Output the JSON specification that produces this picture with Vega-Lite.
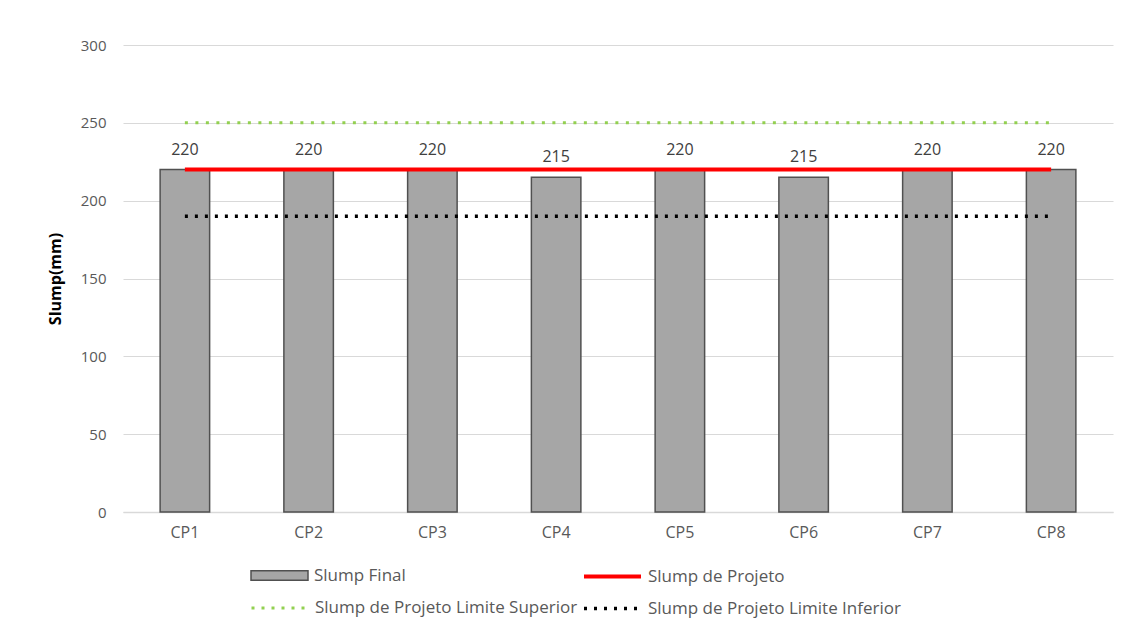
{
  "$schema": "https://vega.github.io/schema/vega-lite/v6.json",
  "autosize": "none",
  "width": 990,
  "height": 467,
  "padding": {"left": 123, "top": 45, "right": 32, "bottom": 131},
  "background": "white",
  "config": {
    "font": "Open Sans",
    "view": {"stroke": null},
    "axis": {"labelColor": "#595959", "ticks": false, "gridColor": "#d9d9d9", "gridWidth": 1},
    "axisX": {"labelFontSize": 16, "labelPadding": 12, "domainColor": "#d9d9d9", "domainWidth": 1.5, "labelAngle": 0},
    "axisY": {"labelFontSize": 15, "labelPadding": 17, "domain": false, "titleFontSize": 16, "titleFontWeight": "bold", "titleColor": "#000000", "titlePadding": 17},
    "legend": {"title": null, "orient": "none", "labelFontSize": 17, "labelColor": "#595959", "labelOffset": 5, "labelLimit": 500, "symbolSize": 3249, "symbolOpacity": 1}
  },
  "resolve": {"scale": {"color": "shared"}, "legend": {"color": "independent"}},
  "data": {
    "values": [
      {"cat": "CP1", "final": 220, "projeto": 220, "sup": 250, "inf": 190},
      {"cat": "CP2", "final": 220, "projeto": 220, "sup": 250, "inf": 190},
      {"cat": "CP3", "final": 220, "projeto": 220, "sup": 250, "inf": 190},
      {"cat": "CP4", "final": 215, "projeto": 220, "sup": 250, "inf": 190},
      {"cat": "CP5", "final": 220, "projeto": 220, "sup": 250, "inf": 190},
      {"cat": "CP6", "final": 215, "projeto": 220, "sup": 250, "inf": 190},
      {"cat": "CP7", "final": 220, "projeto": 220, "sup": 250, "inf": 190},
      {"cat": "CP8", "final": 220, "projeto": 220, "sup": 250, "inf": 190}
    ]
  },
  "encoding": {
    "x": {
      "field": "cat",
      "type": "nominal",
      "sort": null,
      "scale": {"paddingInner": 0, "paddingOuter": 0},
      "axis": {"title": null}
    }
  },
  "layer": [
    {
      "mark": {"type": "bar", "width": {"band": 0.4}, "fill": "#a6a6a6", "stroke": "#505050", "strokeWidth": 1.5},
      "encoding": {
        "y": {
          "field": "final",
          "type": "quantitative",
          "scale": {"domain": [0, 300], "nice": false},
          "axis": {"title": "Slump(mm)", "values": [0, 50, 100, 150, 200, 250, 300], "labelFontSize": 15, "titleFontSize": 16}
        },
        "color": {
          "datum": "Slump Final",
          "type": "nominal",
          "scale": {
            "domain": ["Slump Final", "Slump de Projeto", "Slump de Projeto Limite Superior", "Slump de Projeto Limite Inferior"],
            "range": ["#a6a6a6", "#ff0000", "#92d050", "#000000"]
          },
          "legend": {
            "values": ["Slump Final"],
            "legendX": 127,
            "legendY": 501,
            "symbolType": "M-1,-0.17H1V0.17H-1Z",
            "symbolFillColor": "#a6a6a6",
            "symbolStrokeColor": "#505050",
            "symbolStrokeWidth": 1.5
          }
        }
      }
    },
    {
      "mark": {"type": "text", "baseline": "middle", "dy": -20, "fontSize": 16, "color": "#404040"},
      "encoding": {
        "y": {"field": "final", "type": "quantitative"},
        "text": {"field": "final", "type": "quantitative"}
      }
    },
    {
      "mark": {"type": "line", "strokeWidth": 3, "strokeDash": [3, 7.5], "strokeCap": "butt"},
      "encoding": {
        "y": {"field": "sup", "type": "quantitative"},
        "color": {
          "datum": "Slump de Projeto Limite Superior",
          "type": "nominal",
          "legend": {
            "values": ["Slump de Projeto Limite Superior"],
            "legendX": 127,
            "legendY": 533,
            "symbolType": "stroke",
            "symbolStrokeWidth": 3,
            "symbolDash": [3, 7]
          }
        }
      }
    },
    {
      "mark": {"type": "line", "strokeWidth": 3.5, "strokeDash": [3, 7], "strokeCap": "butt"},
      "encoding": {
        "y": {"field": "inf", "type": "quantitative"},
        "color": {
          "datum": "Slump de Projeto Limite Inferior",
          "type": "nominal",
          "legend": {
            "values": ["Slump de Projeto Limite Inferior"],
            "legendX": 459,
            "legendY": 533,
            "symbolType": "stroke",
            "symbolStrokeWidth": 3.5,
            "symbolDash": [3, 7]
          }
        }
      }
    },
    {
      "mark": {"type": "line", "strokeWidth": 4},
      "encoding": {
        "y": {"field": "projeto", "type": "quantitative"},
        "color": {
          "datum": "Slump de Projeto",
          "type": "nominal",
          "legend": {
            "values": ["Slump de Projeto"],
            "legendX": 459,
            "legendY": 501,
            "symbolType": "stroke",
            "symbolStrokeWidth": 4
          }
        }
      }
    }
  ]
}
